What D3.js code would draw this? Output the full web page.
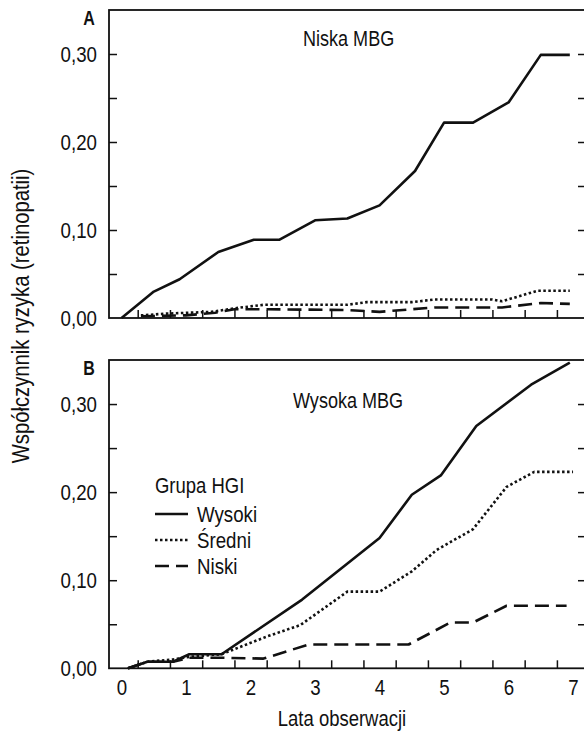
<!DOCTYPE html>
<html>
<head>
<meta charset="utf-8">
<script src="https://cdn.jsdelivr.net/npm/d3@7/dist/d3.min.js"></script>
<style>
  body { margin: 0; background: #fff; }
  text { font-family: "Liberation Sans", Arial, sans-serif; fill: #111; }
</style>
</head>
<body>
<div id="chart"></div>
<script>
// ---- data (years, cumulative risk) ----
// panel A: niska MBG
var yearsA_high = [0, 0.5, 0.9, 1.5, 2.05, 2.45, 3, 3.5, 4, 4.55, 5, 5.45, 6, 6.5, 6.95];
var riskA_high  = [0, 0.030, 0.044, 0.075, 0.089, 0.089, 0.111, 0.113, 0.128, 0.167, 0.222, 0.222, 0.245, 0.299, 0.299];
var yearsA_mid  = [0.3, 0.7, 1.4, 1.75, 2.2, 3.5, 3.8, 4.5, 4.85, 5.75, 5.9, 6.45, 6.95];
var riskA_mid   = [0.003, 0.005, 0.007, 0.011, 0.015, 0.015, 0.018, 0.018, 0.021, 0.021, 0.019, 0.031, 0.031];
var yearsA_low  = [0.3, 1.0, 1.45, 1.75, 2.2, 3.5, 4.0, 4.85, 5.9, 6.5, 6.95];
var riskA_low   = [0.002, 0.003, 0.006, 0.010, 0.010, 0.009, 0.007, 0.012, 0.012, 0.017, 0.016];

// panel B: wysoka MBG
var yearsB_high = [0.1, 0.4, 0.8, 1.05, 1.55, 2.8, 4.0, 4.5, 4.95, 5.5, 6.35, 6.95];
var riskB_high  = [0, 0.0075, 0.0075, 0.016, 0.016, 0.078, 0.148, 0.197, 0.219, 0.275, 0.322, 0.347];
var yearsB_mid  = [0.1, 0.4, 0.8, 1.05, 1.55, 2.25, 2.77, 3.5, 4.0, 4.5, 4.88, 5.45, 5.97, 6.4, 7.0];
var riskB_mid   = [0, 0.0075, 0.010, 0.013, 0.016, 0.036, 0.049, 0.087, 0.087, 0.110, 0.134, 0.158, 0.206, 0.223, 0.223];
var yearsB_low  = [0.1, 0.4, 0.8, 1.05, 1.55, 2.2, 2.9, 4.45, 5.1, 5.45, 5.97, 6.9];
var riskB_low   = [0, 0.0075, 0.0075, 0.012, 0.012, 0.011, 0.027, 0.027, 0.052, 0.052, 0.071, 0.071];

var yearLabels = [0, 1, 2, 3, 4, 5, 6, 7];
var yearTicks = [0.25, 0.75, 1.25, 1.75, 2.25, 2.75, 3.25, 3.75, 4.25, 4.75, 5.25, 5.75, 6.25, 6.75];
var riskLabels = [0, 0.10, 0.20, 0.30];
var riskTicks = [0.05, 0.10, 0.15, 0.20, 0.25, 0.30];

var groupNames = ["Wysoki", "Średni", "Niski"];
var dashes = [null, "2.5,2.5", "14,7"];

var svgWidth = 584;
var svgHeight = 731;

var svg = d3.select("#chart")
  .append("svg")
  .attr("width", svgWidth)
  .attr("height", svgHeight);

var left = 109, right = 585;

var xScale = d3.scaleLinear()
  .domain([-0.195, 7.17])
  .range([left, 584]);

var fmt = function(d) { return d3.format(".2f")(d).replace(".", ","); };

// the original uses a condensed face, squeeze the glyphs to match
function condense(sel, k) {
  sel.each(function() {
    var w = this.getComputedTextLength();
    d3.select(this)
      .attr("textLength", w * k)
      .attr("lengthAdjust", "spacingAndGlyphs");
  });
}

function zip(ts, vs) {
  return ts.map(function(t, i) { return {t: t, v: vs[i]}; });
}

function drawPanel(top, bottom, letter, title, titleX, titleY, series, showXLabels) {
  var yScale = d3.scaleLinear().domain([0, 0.35]).range([bottom, top]);
  var g = svg.append("g");

  // inner ticks on left
  g.append("g")
    .attr("transform", `translate(${left},0)`)
    .call(d3.axisRight(yScale).tickValues(riskTicks).tickSize(8).tickSizeOuter(0).tickFormat(""))
    .call(s => s.select(".domain").remove());

  // left labels
  g.append("g")
    .attr("transform", `translate(${left},0)`)
    .call(d3.axisLeft(yScale).tickValues(riskLabels).tickSize(0).tickPadding(12).tickFormat(fmt))
    .call(s => s.select(".domain").remove())
    .selectAll("text")
    .style("font-size", "22px")
    .style("font-family", null)
    .call(condense, 0.85);

  // right ticks
  g.append("g")
    .attr("transform", `translate(${right},0)`)
    .call(d3.axisLeft(yScale).tickValues(riskTicks).tickSize(7).tickSizeOuter(0).tickFormat(""))
    .call(s => s.select(".domain").remove());

  // bottom ticks (inward)
  g.append("g")
    .attr("transform", `translate(0,${bottom})`)
    .call(d3.axisTop(xScale).tickValues(yearTicks).tickSize(8).tickSizeOuter(0).tickFormat(""))
    .call(s => s.select(".domain").remove());

  if (showXLabels) {
    g.append("g")
      .attr("transform", `translate(0,${bottom})`)
      .call(d3.axisBottom(xScale).tickValues(yearLabels).tickSize(0).tickPadding(11).tickFormat(d3.format("d")))
      .call(s => s.select(".domain").remove())
      .selectAll("text")
      .style("font-size", "22px")
      .style("font-family", null)
      .call(condense, 0.85);
  }

  g.selectAll(".tick line").attr("stroke", "#111").attr("stroke-width", 1.5);

  // frame
  g.append("rect")
    .attr("x", left)
    .attr("y", top)
    .attr("width", right - left)
    .attr("height", bottom - top)
    .attr("fill", "none")
    .attr("stroke", "#111")
    .attr("stroke-width", 1.8);

  var line = d3.line()
    .x(d => xScale(d.t))
    .y(d => yScale(d.v));

  series.forEach(function(s, i) {
    g.append("path")
      .datum(s)
      .attr("d", line)
      .attr("fill", "none")
      .attr("stroke", "#111")
      .attr("stroke-width", 2.6)
      .attr("stroke-linejoin", "round")
      .attr("stroke-dasharray", dashes[i]);
  });

  g.append("text")
    .attr("x", 89)
    .attr("y", top + 15)
    .attr("text-anchor", "middle")
    .style("font-size", "20px")
    .style("font-weight", "bold")
    .text(letter)
    .call(condense, 0.8);

  g.append("text")
    .attr("x", titleX)
    .attr("y", titleY)
    .style("font-size", "22px")
    .text(title)
    .call(condense, 0.82);

  return g;
}

drawPanel(10, 318, "A", "Niska MBG", 303, 46,
  [zip(yearsA_high, riskA_high), zip(yearsA_mid, riskA_mid), zip(yearsA_low, riskA_low)], false);

drawPanel(360, 668.3, "B", "Wysoka MBG", 293, 408,
  [zip(yearsB_high, riskB_high), zip(yearsB_mid, riskB_mid), zip(yearsB_low, riskB_low)], true);

// legend
var legend = svg.append("g").attr("transform", "translate(155,0)");
legend.append("text")
  .attr("x", 0)
  .attr("y", 493)
  .style("font-size", "22px")
  .text("Grupa HGI")
  .call(condense, 0.84);

groupNames.forEach(function(name, i) {
  var yy = 514 + i * 26;
  legend.append("line")
    .attr("x1", 0).attr("x2", 33)
    .attr("y1", yy).attr("y2", yy)
    .attr("stroke", "#111")
    .attr("stroke-width", 2.6)
    .attr("stroke-dasharray", dashes[i]);
  legend.append("text")
    .attr("x", 42)
    .attr("y", yy + 8)
    .style("font-size", "22px")
    .text(name)
    .call(condense, 0.85);
});

// axis titles
svg.append("text")
  .attr("transform", "translate(29,316) rotate(-90)")
  .attr("text-anchor", "middle")
  .style("font-size", "23px")
  .text("Współczynnik ryzyka (retinopatii)")
  .call(condense, 0.88);

svg.append("text")
  .attr("x", 342)
  .attr("y", 726)
  .attr("text-anchor", "middle")
  .style("font-size", "22px")
  .text("Lata obserwacji")
  .call(condense, 0.84);
</script>
</body>
</html>
